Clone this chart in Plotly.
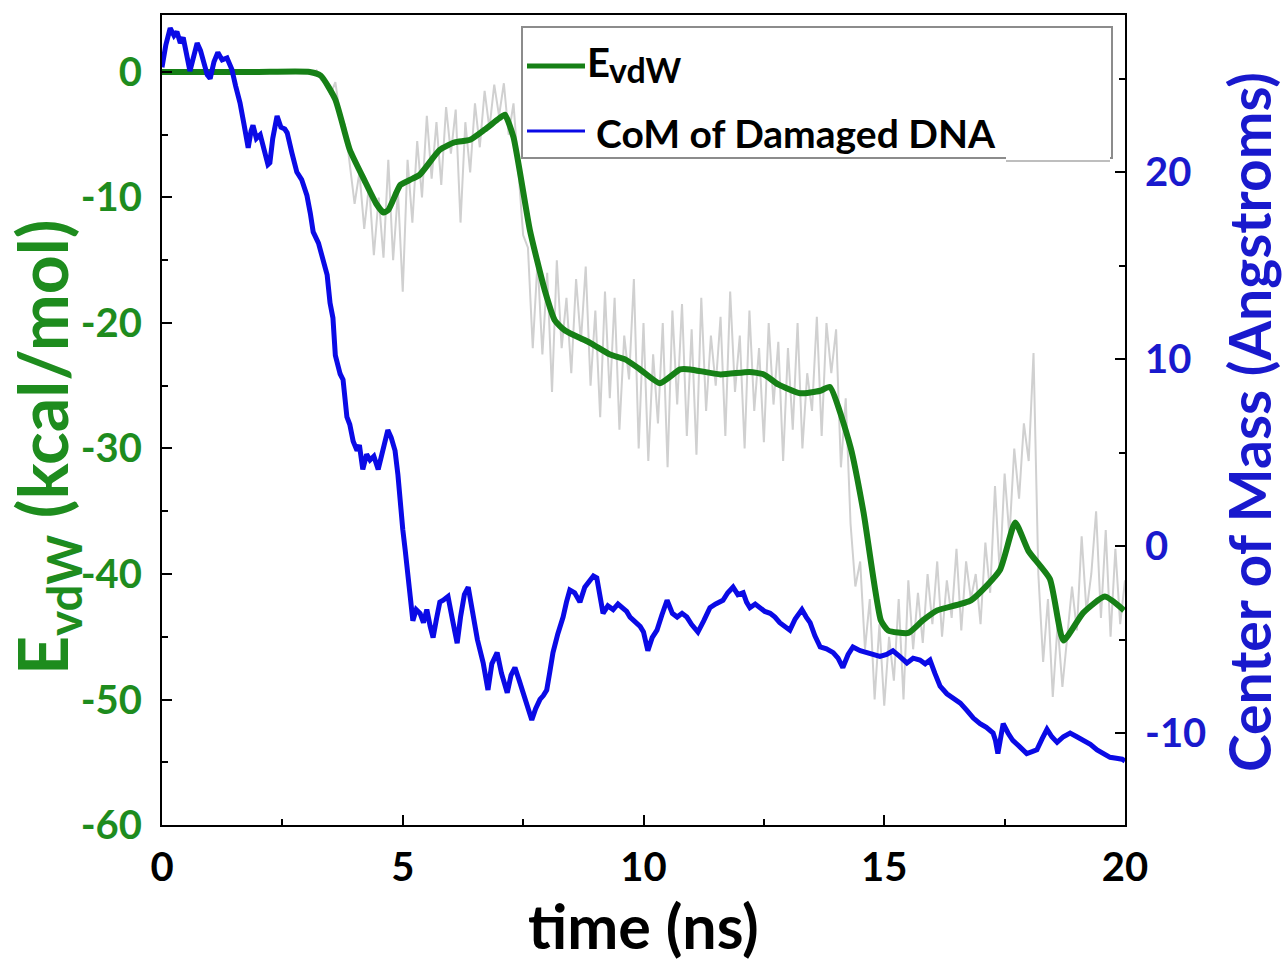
import plotly.graph_objects as go

# ---- smoothed van der Waals energy (kcal/mol) ----
evdw_t = [0.0, 1.0, 2.0, 3.07, 3.3, 3.6, 3.9, 4.2, 4.45, 4.6, 4.7, 4.95, 5.15, 5.35,
          5.77, 6.08, 6.4, 6.7, 7.0, 7.12, 7.3, 7.64, 7.95, 8.16, 8.37, 8.9, 9.3,
          9.62, 9.93, 10.34, 10.76, 10.97, 11.6, 12.2, 12.5, 12.8, 13.25, 13.67,
          13.87, 14.3, 14.57, 14.93, 15.08, 15.5, 15.8, 16.1, 16.8, 17.4, 17.72,
          18.0, 18.44, 18.72, 19.13, 19.58, 19.98]
evdw_smooth = [0.0, 0.0, 0.0, 0.0, -0.3, -2.2, -6.2, -8.6, -10.5, -11.2, -11.0, -9.0,
               -8.6, -8.2, -6.2, -5.6, -5.4, -4.6, -3.7, -3.4, -5.2, -12.6, -17.4,
               -19.8, -20.6, -21.6, -22.5, -22.9, -23.7, -24.8, -23.7, -23.7, -24.1,
               -23.9, -24.1, -24.9, -25.6, -25.4, -25.1, -29.9, -35.1, -43.7, -44.5,
               -44.7, -43.7, -42.9, -42.1, -39.7, -35.9, -38.2, -40.4, -45.3, -43.1,
               -41.8, -42.9]

# ---- raw van der Waals energy, sampled every 0.1 ns from 3.2 ns ----
evdw_raw_t = [round(3.2 + 0.1 * i, 2) for i in range(169)]
evdw_raw = [
    0.2, -0.6, -0.9, -1.8, -0.8, -3.5, -4.2, -7.5, -10.5, -8.0,      # 3.2 - 4.1
    -12.5, -9.0, -14.6, -10.0, -14.8, -7.0, -15.0, -9.5, -17.5, -7.0,  # 4.2 - 5.1
    -12.0, -5.5, -10.0, -3.5, -8.5, -4.0, -9.0, -2.8, -6.5, -3.0,      # 5.2 - 6.1
    -12.0, -4.0, -8.0, -2.5, -6.0, -1.5, -4.5, -1.0, -3.5, -0.9,       # 6.2 - 7.1
    -5.0, -2.5, -8.0, -13.0, -14.0, -22.0, -15.0, -22.5, -16.0, -25.5, # 7.2 - 8.1
    -15.0, -22.0, -18.0, -24.0, -16.5, -21.5, -15.5, -25.0, -19.0, -27.5,  # 8.2 - 9.1
    -17.5, -26.0, -18.0, -28.5, -21.0, -24.5, -16.5, -30.0, -20.0, -31.0,  # 9.2 - 10.1
    -22.5, -28.0, -20.0, -31.5, -19.0, -26.5, -18.5, -29.0, -20.5, -30.5,  # 10.2 - 11.1
    -18.0, -27.0, -21.0, -25.0, -19.5, -29.0, -17.5, -25.5, -21.0, -30.0,  # 11.2 - 12.1
    -19.0, -27.0, -22.0, -29.5, -20.0, -26.5, -21.5, -31.0, -22.0, -28.5,  # 12.2 - 13.1
    -20.0, -30.0, -24.0, -27.0, -19.5, -29.0, -20.0, -24.0, -20.5, -31.5,  # 13.2 - 14.1
    -26.0, -36.0, -41.0, -39.0, -46.0, -42.0, -50.0, -44.0, -50.5, -45.0,  # 14.2 - 15.1
    -48.5, -42.0, -50.0, -40.5, -46.0, -41.5, -45.5, -40.0, -44.0, -39.0,  # 15.2 - 16.1
    -45.0, -40.5, -43.5, -38.0, -44.5, -39.0, -42.0, -40.0, -44.0, -37.5,  # 16.2 - 17.1
    -41.5, -33.0, -40.0, -32.0, -37.0, -30.0, -34.0, -28.0, -31.0, -22.4,  # 17.2 - 18.1
    -40.0, -47.0, -42.0, -49.8, -44.0, -49.0, -45.0, -41.0, -44.5, -37.0,  # 18.2 - 19.1
    -43.0, -40.0, -35.0, -43.5, -36.5, -45.0, -38.0, -44.0, -40.5,         # 19.2 - 20.0
]

# ---- centre of mass of the damaged DNA (Angstroms) ----
com_t = [0.0, 0.08, 0.17, 0.25, 0.31, 0.38, 0.44, 0.52, 0.58, 0.66, 0.73, 0.8, 0.87,
         0.94, 1.0, 1.08, 1.16, 1.25, 1.35, 1.45, 1.53, 1.62, 1.7, 1.79, 1.85, 1.89,
         1.96, 2.04, 2.12, 2.2, 2.24, 2.3, 2.39, 2.47, 2.55, 2.6, 2.7, 2.8, 2.9,
         3.01, 3.08, 3.14, 3.25, 3.34, 3.43, 3.49, 3.55, 3.6, 3.63, 3.7, 3.76, 3.84,
         3.9, 3.97, 4.05, 4.1, 4.17, 4.25, 4.32, 4.4, 4.49, 4.58, 4.69, 4.76, 4.84,
         4.9, 4.94, 5.0, 5.05, 5.1, 5.15, 5.21, 5.28, 5.36, 5.43, 5.5, 5.57, 5.63,
         5.7, 5.77, 5.84, 5.94, 6.03, 6.13, 6.2, 6.28, 6.36, 6.46, 6.55, 6.67, 6.77,
         6.85, 6.96, 7.05, 7.17, 7.25, 7.33, 7.42, 7.5, 7.6, 7.68, 7.76, 7.85, 7.92,
         7.99, 8.05, 8.12, 8.22, 8.33, 8.4, 8.47, 8.57, 8.68, 8.78, 8.89, 8.96, 9.03,
         9.1, 9.16, 9.26, 9.37, 9.47, 9.57, 9.65, 9.72, 9.82, 9.93, 10.0, 10.09,
         10.18, 10.28, 10.38, 10.49, 10.6, 10.7, 10.8, 10.9, 11.0, 11.13, 11.25,
         11.38, 11.5, 11.65, 11.75, 11.86, 11.96, 12.07, 12.14, 12.21, 12.32, 12.42,
         12.52, 12.63, 12.73, 12.83, 12.94, 13.04, 13.15, 13.29, 13.38, 13.46, 13.56,
         13.67, 13.8, 13.94, 14.04, 14.14, 14.25, 14.35, 14.5, 14.64, 14.78, 14.91,
         15.05, 15.18, 15.32, 15.47, 15.6, 15.74, 15.85, 15.95, 16.05, 16.16, 16.3,
         16.43, 16.58, 16.72, 16.85, 16.99, 17.12, 17.26, 17.31, 17.36, 17.42, 17.47,
         17.57, 17.67, 17.8, 17.96, 18.07, 18.17, 18.28, 18.38, 18.48, 18.59, 18.72,
         18.86, 19.0, 19.13, 19.28, 19.42, 19.55, 19.69, 19.82, 19.94, 20.0]
com = [25.6, 26.8, 27.7, 27.3, 27.5, 26.9, 27.2, 26.2, 25.4, 26.2, 26.9, 26.5, 25.8,
       25.2, 25.0, 25.9, 26.4, 26.0, 26.1, 25.5, 24.6, 23.7, 22.6, 21.3, 22.2, 22.5,
       21.8, 22.0, 21.2, 20.4, 20.5, 21.8, 23.0, 22.4, 22.3, 22.1, 21.0, 20.0, 19.6,
       18.75, 17.8, 16.8, 16.2, 15.3, 14.5, 13.0, 12.2, 10.2, 9.8, 9.2, 8.9, 6.9,
       6.5, 5.6, 5.1, 5.4, 4.1, 4.9, 4.6, 4.8, 4.1, 5.0, 6.2, 5.8, 5.1,
       3.8, 2.5, 0.9, -0.2, -1.5, -2.2, -4.0, -3.4, -3.6, -4.1, -3.4, -4.3, -4.9,
       -3.9, -3.0, -2.9, -2.7, -3.9, -5.2, -3.8, -2.6, -2.2, -3.6, -5.0, -6.25, -7.7,
       -6.3, -5.7, -6.8, -7.85, -6.9, -6.5, -7.2, -7.85, -8.6, -9.3, -8.7, -8.2, -8.0,
       -7.7, -6.8, -5.7, -4.7, -3.8, -3.0, -2.35, -2.5, -3.0, -2.2, -1.8, -1.6, -1.7,
       -2.6, -3.6, -3.2, -3.4, -3.1, -3.3, -3.5, -3.8, -4.0, -4.3, -4.6, -5.6,
       -4.9, -4.5, -3.7, -2.9, -3.6, -3.8, -3.6, -3.8, -4.2, -4.6, -4.0,
       -3.3, -3.1, -2.9, -2.5, -2.2, -2.6, -2.5, -3.0, -3.3, -3.1, -3.3,
       -3.5, -3.6, -3.8, -4.1, -4.3, -4.5, -3.9, -3.4, -3.8, -4.1, -4.8,
       -5.4, -5.5, -5.7, -6.0, -6.5, -5.8, -5.4, -5.6, -5.7, -5.8, -5.9,
       -5.8, -5.6, -5.9, -6.25, -6.0, -6.1, -6.3, -6.1, -6.8, -7.5, -7.9,
       -8.1, -8.4, -8.8, -9.2, -9.5, -9.7, -10.0, -10.4, -11.1, -10.0, -9.5,
       -10.0, -10.4, -10.7, -11.1, -11.0, -10.9, -10.3, -9.8, -10.2, -10.5, -10.2,
       -10.0, -10.2, -10.4, -10.6, -10.9, -11.1, -11.3, -11.35, -11.4, -11.5]

# tick positions and labels (plain hyphen minus signs)
x_ticks = [0, 5, 10, 15, 20]
x_labels = ["0", "5", "10", "15", "20"]
e_ticks = [0, -10, -20, -30, -40, -50, -60]
e_labels = ["0", "-10", "-20", "-30", "-40", "-50", "-60"]
com_ticks = [20, 10, 0, -10]
com_labels = ["20", "10", "0", "-10"]

GREEN = "rgb(22,128,22)"
GREEN_TXT = "rgb(30,140,30)"
BLUE = "rgb(10,10,230)"
BLUE_TXT = "rgb(25,25,205)"
FONT = "Lato"

fig = go.Figure()
fig.add_trace(go.Scatter(x=evdw_raw_t, y=evdw_raw, mode="lines",
                         line=dict(color="rgb(208,208,208)", width=2),
                         showlegend=False, yaxis="y"))
fig.add_trace(go.Scatter(x=evdw_t, y=evdw_smooth, mode="lines",
                         line=dict(color=GREEN, width=6, shape="spline", smoothing=0.5),
                         showlegend=False, yaxis="y"))
fig.add_trace(go.Scatter(x=com_t, y=com, mode="lines",
                         line=dict(color=BLUE, width=5),
                         showlegend=False, yaxis="y2"))

tick_common = dict(ticks="inside", tickwidth=2, tickcolor="black", ticklen=10,
                   showline=True, linecolor="black", linewidth=2,
                   showgrid=False, zeroline=False, tickmode="array")
minor_ticks = dict(ticks="inside", ticklen=6, tickwidth=2, tickcolor="black")

fig.update_layout(
    width=1287, height=962,
    margin=dict(l=162, r=162, t=15, b=137),
    paper_bgcolor="white", plot_bgcolor="white",
    xaxis=dict(range=[0, 20], tickvals=x_ticks, ticktext=x_labels, mirror=True,
               tickfont=dict(family=FONT, size=40, color="black", weight="bold"),
               ticklabelstandoff=6,
               minor=dict(dtick=2.5, tick0=0, **minor_ticks),
               **tick_common),
    yaxis=dict(range=[-60, 4.54], tickvals=e_ticks, ticktext=e_labels,
               tickfont=dict(family=FONT, size=40, color=GREEN_TXT, weight="bold"),
               ticklabelstandoff=10,
               minor=dict(dtick=5, tick0=0, **minor_ticks),
               **tick_common),
    yaxis2=dict(range=[-14.92, 28.4], tickvals=com_ticks, ticktext=com_labels,
                overlaying="y", side="right",
                tickfont=dict(family=FONT, size=40, color=BLUE_TXT, weight="bold"),
                ticklabelstandoff=10,
                minor=dict(dtick=5, tick0=0, **minor_ticks),
                **tick_common),
)


def px_x(p):
    return (p - 162) / 963.0


def px_y(p):
    return (825 - p) / 810.0


# axis titles
fig.add_annotation(text="time (ns)", xref="paper", yref="paper",
                   x=px_x(643), y=px_y(925), xanchor="center", yanchor="middle",
                   showarrow=False, font=dict(family=FONT, size=61, color="black",
                                              weight="bold"))
fig.add_annotation(text="E<sub>vdW</sub> (kcal/mol)", xref="paper", yref="paper",
                   x=px_x(46), y=px_y(448), xanchor="center", yanchor="middle",
                   textangle=-90, showarrow=False,
                   font=dict(family=FONT, size=68, color=GREEN_TXT, weight="bold"))
fig.add_annotation(text="Center of Mass (Angstroms)", xref="paper", yref="paper",
                   x=px_x(1249), y=px_y(422), xanchor="center", yanchor="middle",
                   textangle=-90, showarrow=False,
                   font=dict(family=FONT, size=57, color=BLUE_TXT, weight="bold"))

# legend box
fig.add_shape(type="rect", xref="paper", yref="paper",
              x0=px_x(522), x1=px_x(1112), y0=px_y(158), y1=px_y(27),
              line=dict(color="rgb(140,140,140)", width=2), fillcolor="white")
fig.add_shape(type="line", xref="paper", yref="paper",
              x0=px_x(527), x1=px_x(585), y0=px_y(66), y1=px_y(66),
              line=dict(color=GREEN, width=5))
fig.add_shape(type="line", xref="paper", yref="paper",
              x0=px_x(527), x1=px_x(585), y0=px_y(131), y1=px_y(131),
              line=dict(color=BLUE, width=3))
fig.add_annotation(text="E", xref="paper", yref="paper",
                   x=px_x(585), y=px_y(62), xanchor="left", yanchor="middle",
                   showarrow=False,
                   font=dict(family=FONT, size=40, color="black", weight="bold"))
fig.add_annotation(text="vdW", xref="paper", yref="paper",
                   x=px_x(607), y=px_y(70), xanchor="left", yanchor="middle",
                   showarrow=False,
                   font=dict(family=FONT, size=34, color="black", weight="bold"))
fig.add_annotation(text="CoM of Damaged DNA", xref="paper", yref="paper",
                   x=px_x(594), y=px_y(133), xanchor="left", yanchor="middle",
                   showarrow=False,
                   font=dict(family=FONT, size=39, color="black", weight="bold"))
# blank patch over the lower right corner of the legend
fig.add_shape(type="rect", xref="paper", yref="paper",
              x0=px_x(1006), x1=px_x(1110), y0=px_y(161), y1=px_y(125),
              line=dict(width=0), fillcolor="white")
fig.add_shape(type="line", xref="paper", yref="paper",
              x0=px_x(1006), x1=px_x(1110), y0=px_y(161), y1=px_y(161),
              line=dict(color="rgb(190,190,190)", width=2))

fig.write_html("out.html")
